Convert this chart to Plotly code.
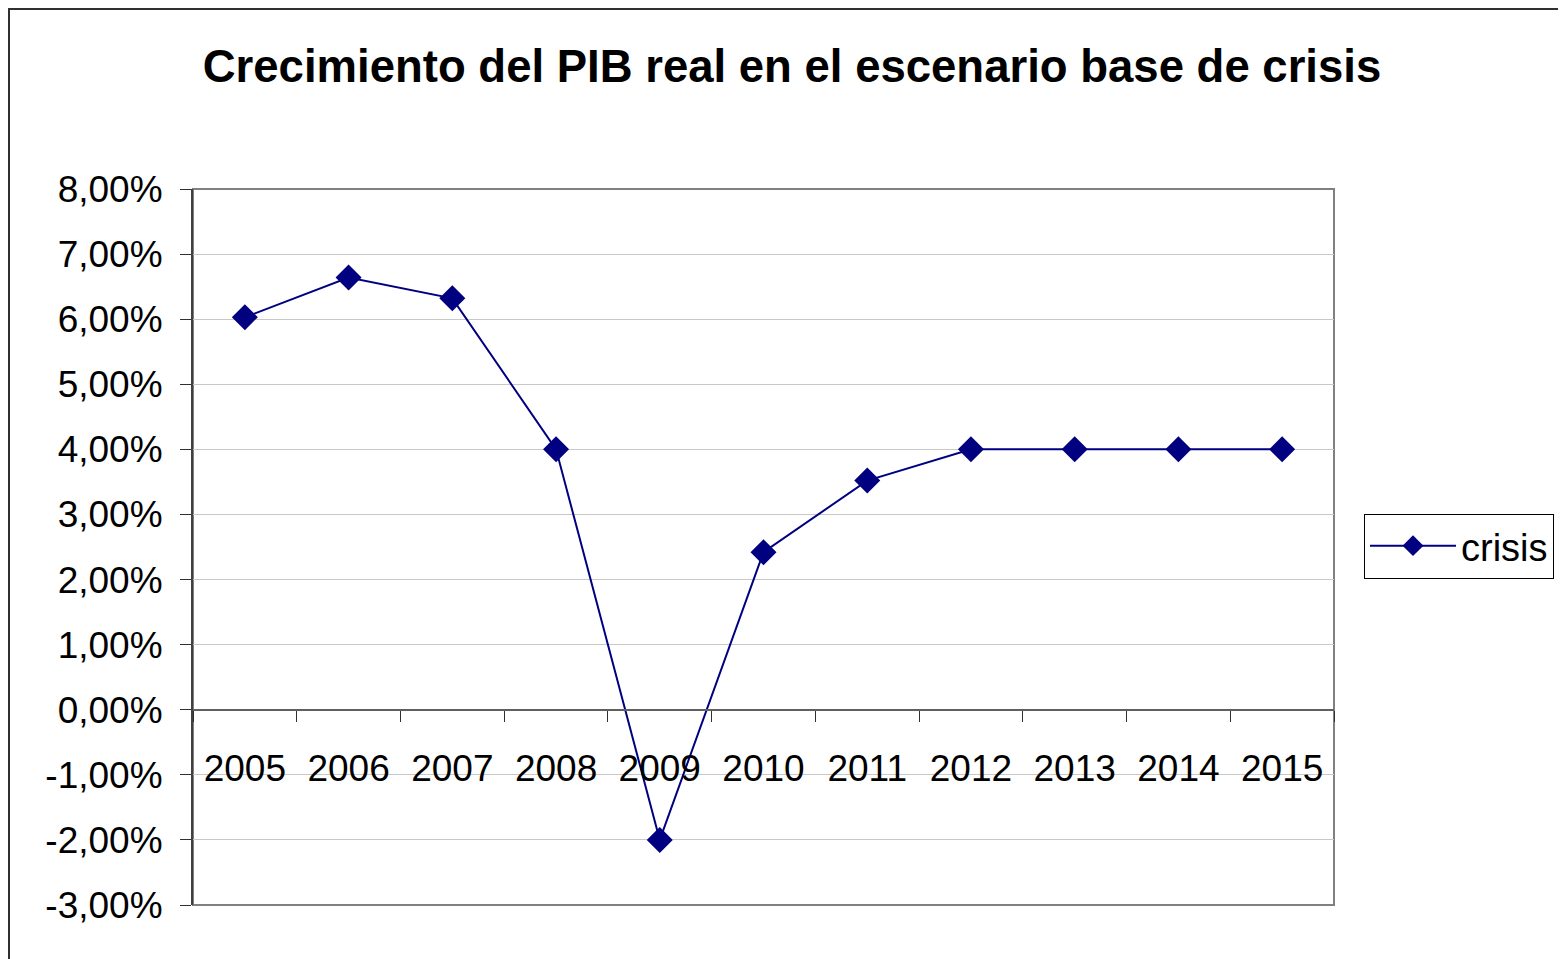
import plotly.graph_objects as go

years = ["2005", "2006", "2007", "2008", "2009", "2010", "2011", "2012", "2013", "2014", "2015"]
crisis = [6.03, 6.64, 6.32, 4.00, -2.00, 2.42, 3.52, 4.00, 4.00, 4.00, 4.00]
y_tickvals = [-3, -2, -1, 0, 1, 2, 3, 4, 5, 6, 7, 8]
y_ticktext = ["-3,00%", "-2,00%", "-1,00%", "0,00%", "1,00%", "2,00%", "3,00%",
              "4,00%", "5,00%", "6,00%", "7,00%", "8,00%"]

OFF = 8  # page body margin
W, H = 1566 - OFF, 959 - OFF
L, R, T, B = 193 - OFF, 1334 - OFF, 189 - OFF, 905 - OFF
FONT = "Liberation Sans, Arial, sans-serif"
NAVY = "#000080"


def px(xpix):
    return (xpix - OFF - L) / (R - L)


def py(ypix):
    return (B - (ypix - OFF)) / (B - T)


fig = go.Figure()
fig.add_trace(go.Scatter(
    x=years, y=crisis, name="crisis", mode="lines+markers",
    line=dict(color=NAVY, width=2),
    marker=dict(symbol="diamond", size=20, color=NAVY),
))

ymin, ymax = -3, 8
zero_pos = (0 - ymin) / (ymax - ymin)

fig.update_layout(
    width=W, height=H,
    margin=dict(l=L, r=W - R, t=T, b=H - B, pad=0, autoexpand=False),
    paper_bgcolor="white", plot_bgcolor="white",
    font=dict(family=FONT, color="black", size=37),
    title=dict(text="<b>Crecimiento del PIB real en el escenario base de crisis</b>",
               x=(792 - OFF) / W, xref="container", xanchor="center",
               y=1 - (66 - OFF) / H, yref="container", yanchor="middle",
               font=dict(size=45.5, family=FONT, color="black")),
    showlegend=True,
    legend=dict(x=px(1364), xanchor="left", y=py(546), yanchor="middle",
                bordercolor="black", borderwidth=1, bgcolor="white",
                font=dict(size=38, family=FONT), itemwidth=86),
    xaxis=dict(type="category", anchor="free", position=zero_pos,
               showline=True, linecolor="#606060", linewidth=2,
               ticks="outside", tickson="boundaries", ticklen=11, tickcolor="#303030", tickwidth=1,
               showgrid=False, tickfont=dict(size=37), ticklabelstandoff=26,
               range=[-0.5, len(years) - 0.5]),
    yaxis=dict(range=[ymin, ymax], tickvals=y_tickvals, ticktext=y_ticktext,
               showgrid=True, gridcolor="#c8c8c8", gridwidth=1, zeroline=False,
               showline=True, linecolor="#404040", linewidth=2,
               ticks="outside", ticklen=11, tickcolor="#303030", tickwidth=1,
               tickfont=dict(size=37), ticklabelstandoff=10),
    shapes=[
        dict(type="rect", xref="paper", yref="paper", x0=0, x1=1, y0=0, y1=1,
             line=dict(color="#808080", width=2), layer="below"),
        dict(type="rect", xref="paper", yref="paper",
             x0=px(9), x1=px(1600), y0=py(1000), y1=py(9),
             line=dict(color="#303030", width=2), fillcolor="rgba(0,0,0,0)", layer="below"),
    ],
)

fig.write_html("out.html")
